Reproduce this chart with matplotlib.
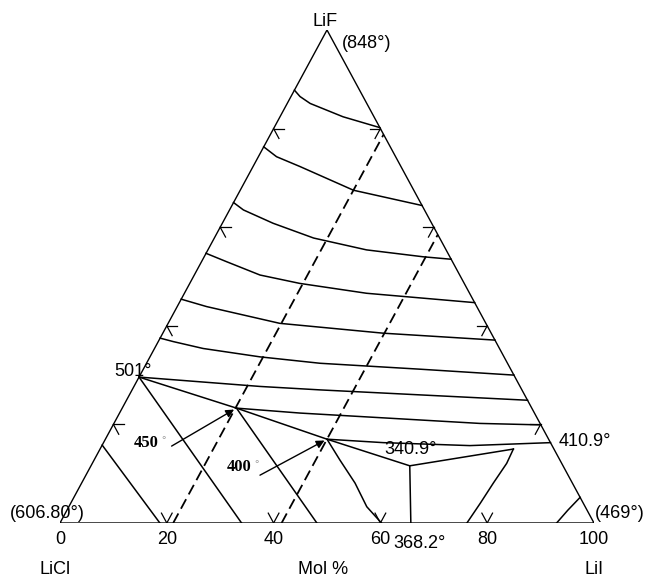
import numpy as np
import matplotlib.pyplot as plt

plt.rcParams['font.family'] = ['Liberation Sans', 'DejaVu Sans']

# compositions as (mol% LiI, mol% LiF); LiCl makes up the rest
iso1 = [(0, 87.8), (1.7, 86.5), (4.3, 85.1), (11.8, 82.4), (19.8, 80.2)]
iso2 = [(0, 76.3), (3.4, 74.3), (8.8, 72.3), (21.2, 67.5), (35.6, 64.4)]
iso3 = [(0, 65.0), (2.6, 63.5), (9.5, 60.8), (18.6, 57.8), (29.7, 55.4), (41.0, 54.0), (46.5, 53.5)]
iso4 = [(0, 54.7), (4.7, 53.0), (12.3, 50.3), (20.6, 48.6), (34.1, 46.6), (55.3, 44.7)]
iso5 = [(0, 45.4), (5.5, 43.9), (20.9, 40.5), (41.3, 38.5), (62.9, 37.1)]
iso6 = [(0, 37.5), (2.8, 36.8), (9.1, 35.4), (20.6, 33.7), (32.5, 32.4), (51.8, 31.2), (70.0, 30.0)]
iso7 = [(0, 29.6), (23.6, 27.7), (35.2, 27.0), (75.1, 24.9)]
iso8 = [(21.4, 23.3), (33.8, 22.3), (68.5, 20.2), (80.1, 19.9)]
iso9 = [(41.5, 17.0), (52.4, 16.3), (68.9, 15.7), (83.7, 16.3)]

valley = [(0, 29.6), (21.4, 23.3), (41.5, 17.0), (59.7, 11.6), (77.4, 15.0)]

low1 = [(0, 15.8), (18.7, 0)]
low2 = [(0, 29.6), (34.0, 0)]
low3 = [(21.4, 23.3), (48.1, 0)]
low4 = [(41.5, 17.0), (46.0, 12.8), (51.2, 8.1), (55.8, 3.3), (60.2, 0)]
low5 = [(59.7, 11.6), (65.7, 0)]
low6 = [(77.4, 15.0), (77.6, 12.1), (77.1, 8.1), (76.7, 4.0), (76.2, 0)]
low7 = [(94.8, 5.2), (93.8, 2.6), (93.0, 0)]

sections_lii = [21.2, 41.5]          # dashed constant-LiI sections
tick_vals = [20, 40, 60, 80]
base_labels = [0, 20, 40, 60, 80, 100]

pt450 = (21.4, 23.3)
pt400 = (41.5, 17.0)
tail450 = (13.1, 15.6)
tail400 = (32.6, 9.7)


def tern(pts):
    b, f = np.array(pts, dtype=float).T
    return b + f / 2, f


def tern1(p):
    return p[0] + p[1] / 2, p[1]


fig = plt.figure(figsize=(6.45, 5.79), dpi=100)
ax = fig.add_axes([60 / 645, 56 / 579, 534 / 645, 493 / 579])
ax.set_xlim(0, 100)
ax.set_ylim(0, 100)
ax.axis('off')

# triangle
x, y = tern([(0, 0), (100, 0), (0, 100), (0, 0)])
ax.plot(x, y, color='black', lw=1.0, solid_joinstyle='miter')

for c in [iso1, iso2, iso3, iso4, iso5, iso6, iso7, iso8, iso9, valley,
          low1, low2, low3, low4, low5, low6, low7]:
    x, y = tern(c)
    ax.plot(x, y, color='black', lw=1.1)

for b in sections_lii:
    x, y = tern([(b, 0), (b, 100 - b)])
    ax.plot(x, y, color='black', lw=1.3, dashes=(6, 3))

# ternary ticks
L = 2.0
for v in tick_vals:
    for seg in ([(0, v), (L, v)], [(0, v), (L, v - L)],
                [(100 - v, v), (100 - v - L, v)], [(100 - v, v), (100 - v, v - L)],
                [(v, 0), (v, L)], [(v, 0), (v - L, L)]):
        x, y = tern(seg)
        ax.plot(x, y, color='black', lw=0.9)

# arrows to the 450 and 400 points
for tail, head in [(tail450, pt450), (tail400, pt400)]:
    ax.annotate('', xy=tern1(head), xytext=tern1(tail),
                arrowprops=dict(arrowstyle='-|>', color='black', lw=1.0,
                                mutation_scale=12, shrinkA=0, shrinkB=2))


def px(x, y):
    return x / 645, 1 - y / 579


def label(x, y, s, **kw):
    fig.text(*px(x, y), s, ha='center', va='center', fontsize=13, **kw)


label(325, 21, 'LiF')
label(367, 43, '(848°)')
label(47, 514, '(606.80°)')
label(620, 513, '(469°)')
label(133, 371, '501°')
label(585, 442, '410.9°')
label(411, 449, '340.9°')
label(420, 543, '368.2°')
for v in base_labels:
    label(60 + 5.34 * v, 539, str(v))
label(55, 569, 'LiCl')
label(323, 569, 'Mol %')
label(594, 569, 'LiI')

for (x, y), s in [((146, 443), '450'), ((239, 467), '400')]:
    fig.text(*px(x, y), s, ha='center', va='center', fontsize=12,
             family='Liberation Serif', weight='bold')
    fig.text(*px(x + 18, y - 3), '°', ha='center', va='center',
             fontsize=8, color='#999999')

fig.savefig('out.png', dpi=100)
